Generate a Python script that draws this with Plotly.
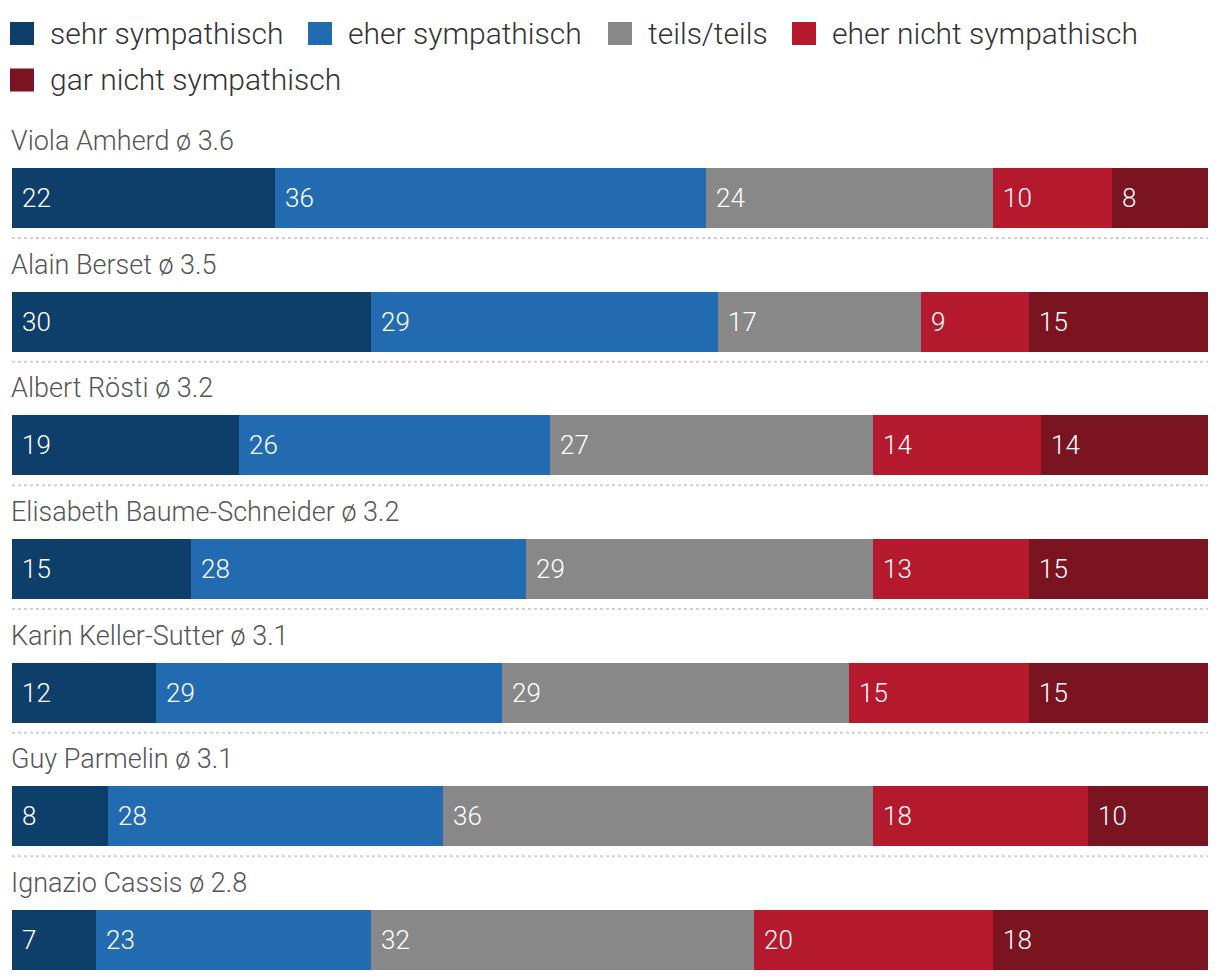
import plotly.graph_objects as go

# ---- data ----
politicians = ["Viola Amherd", "Alain Berset", "Albert Rösti", "Elisabeth Baume-Schneider",
               "Karin Keller-Sutter", "Guy Parmelin", "Ignazio Cassis"]
averages = [3.6, 3.5, 3.2, 3.2, 3.1, 3.1, 2.8]
categories = ["sehr sympathisch", "eher sympathisch", "teils/teils",
              "eher nicht sympathisch", "gar nicht sympathisch"]
sehr = [22, 30, 19, 15, 12, 8, 7]
eher = [36, 29, 26, 28, 29, 28, 23]
teils = [24, 17, 27, 29, 29, 36, 32]
eher_nicht = [10, 9, 14, 13, 15, 18, 20]
gar_nicht = [8, 15, 14, 15, 15, 10, 18]
series = [sehr, eher, teils, eher_nicht, gar_nicht]
colors = ["#0e3f6a", "#226bb1", "#888888", "#b5192d", "#7a1420"]

# ---- layout constants (pixels; y axis is in pixel units) ----
W, H = 1220, 980
x0_px, x1_px = 12, 1208
first_center = 198
pitch = 123.67
bar_h = 60
FONT = "Roboto"
# legend item placement (square left edge, row centre) in pixels
legend_pos = [(10, 33.5), (308, 33.5), (608, 33.5), (792, 33.5), (10, 80)]
sq = 23

centers = [first_center + i * pitch for i in range(len(politicians))]

fig = go.Figure()

for cat, vals, col in zip(categories, series, colors):
    fig.add_trace(go.Bar(
        orientation="h", x=vals, y=centers, width=bar_h,
        marker=dict(color=col, line=dict(width=0)),
        showlegend=False, hoverinfo="skip", name=cat,
    ))

annotations = []
shapes = []

# legend (drawn manually for exact placement)
for (lx, ly), cat, col in zip(legend_pos, categories, colors):
    shapes.append(dict(
        type="rect", xref="paper", yref="paper",
        x0=lx / W, x1=(lx + sq + 1) / W,
        y0=1 - (ly + sq / 2) / H, y1=1 - (ly - sq / 2) / H,
        fillcolor=col, line=dict(width=0),
    ))
    annotations.append(dict(
        x=(lx + 38) / W, y=1 - ly / H, xref="paper", yref="paper",
        text=cat, showarrow=False, xanchor="left", yanchor="middle",
        font=dict(family=FONT, size=30, color="#333333", weight=300),
    ))

# value labels and row titles
for i, yc in enumerate(centers):
    cum = 0
    for vals in series:
        annotations.append(dict(
            x=cum, y=yc, xref="x", yref="y", text=str(vals[i]),
            showarrow=False, xanchor="left", yanchor="middle", xshift=8,
            font=dict(family=FONT, size=26, color="white", weight=300),
        ))
        cum += vals[i]
    annotations.append(dict(
        x=0, y=yc - 57, xref="x", yref="y",
        text=f"{politicians[i]} ø {averages[i]}",
        showarrow=False, xanchor="left", yanchor="middle", xshift=-3,
        font=dict(family=FONT, size=27, color="#555555", weight=300),
    ))

for yc in centers[:-1]:
    shapes.append(dict(
        type="line", xref="x", yref="y", x0=0, x1=100,
        y0=yc + bar_h / 2 + 10, y1=yc + bar_h / 2 + 10,
        line=dict(color="#d0d0d0", width=2, dash="dot"),
    ))

fig.update_layout(
    width=W, height=H,
    margin=dict(l=0, r=0, t=0, b=0),
    paper_bgcolor="white", plot_bgcolor="white",
    barmode="stack", bargap=0, showlegend=False,
    xaxis=dict(range=[0, 100], domain=[x0_px / W, x1_px / W], visible=False, fixedrange=True),
    yaxis=dict(range=[H, 0], domain=[0, 1], visible=False, fixedrange=True),
    annotations=annotations, shapes=shapes,
    font=dict(family=FONT),
)

fig.write_html("out.html", config={"displayModeBar": False, "staticPlot": True},
               post_script="document.body.style.margin='0';document.body.style.overflow='hidden';")
